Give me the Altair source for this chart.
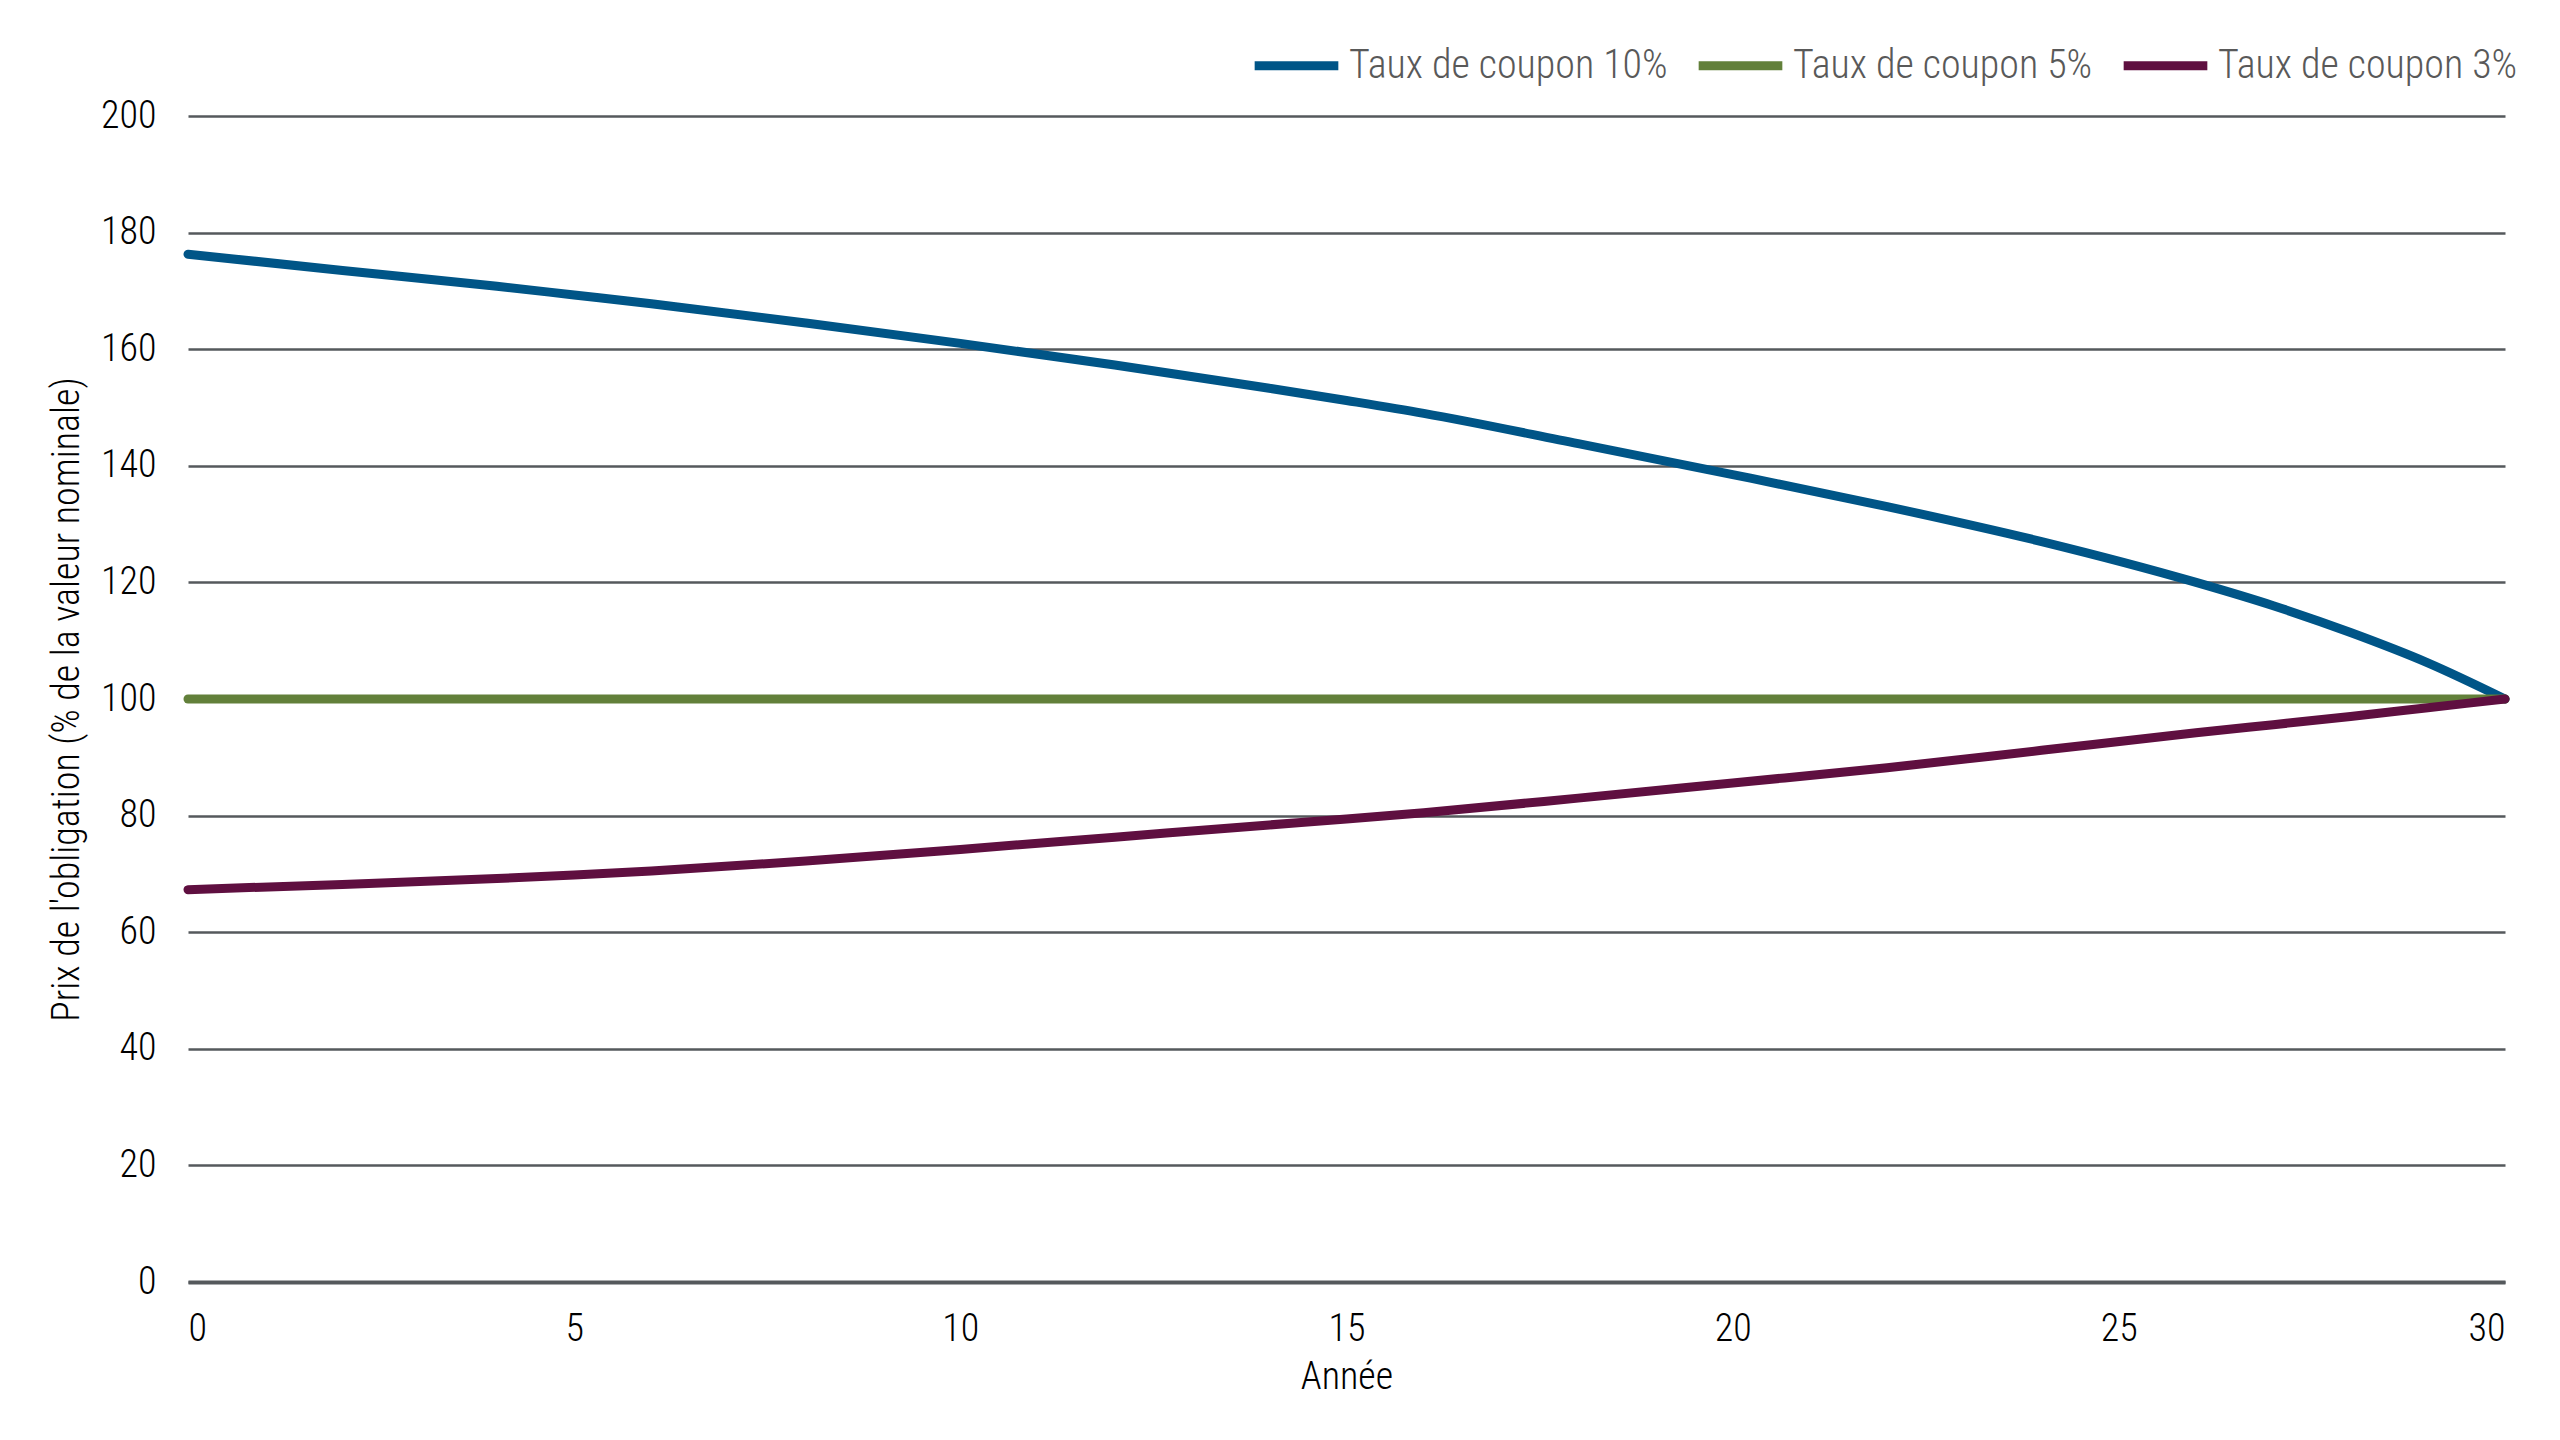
import altair as alt
import pandas as pd

years = [0, 2, 4, 5, 6, 8, 10, 12, 14, 15, 16, 18, 20, 22, 24, 26, 27, 28, 29, 30]
coupon_10 = [176.3, 173.5, 170.8, 169.3, 167.8, 164.5, 161.0, 157.3, 153.3, 151.2, 149.0, 143.8, 138.5, 133.0, 127.0, 120.0, 116.0, 111.4, 106.2, 100.0]
coupon_5 = [100.0] * len(years)
coupon_3 = [67.3, 68.2, 69.2, 69.8, 70.5, 72.2, 74.2, 76.3, 78.4, 79.4, 80.5, 83.0, 85.6, 88.2, 91.2, 94.2, 95.6, 97.0, 98.5, 100.0]

series_names = ["Taux de coupon 10%", "Taux de coupon 5%", "Taux de coupon 3%"]
series_colors = ["#005587", "#62803A", "#5F0F40"]
y_ticks = [0, 20, 40, 60, 80, 100, 120, 140, 160, 180, 200]
x_ticks = [0, 5, 10, 15, 20, 25, 30]

rows = []
for name, vals in zip(series_names, [coupon_10, coupon_5, coupon_3]):
    for yr, v in zip(years, vals):
        rows.append({"Année": yr, "Prix": v, "Série": name, "ordre": series_names.index(name)})
df = pd.DataFrame(rows)

FONT = "Roboto Condensed, Liberation Sans Narrow, DejaVu Sans Condensed, Roboto, sans-serif"

chart = alt.Chart(df).mark_line(
    strokeWidth=9, strokeCap="round", strokeJoin="round", interpolate="monotone"
).encode(
    x=alt.X("Année:Q", title="Année",
            scale=alt.Scale(domain=[0, 30], nice=False, zero=False),
            axis=alt.Axis(values=x_ticks, grid=False, ticks=False, labelFlush=True,
                          domain=True, domainColor="#55595C", domainWidth=4,
                          labelPadding=28, titlePadding=10, format="d")),
    y=alt.Y("Prix:Q", title="Prix de l'obligation (% de la valeur nominale)",
            scale=alt.Scale(domain=[0, 200], nice=False),
            axis=alt.Axis(values=y_ticks, grid=True, ticks=False, domain=False,
                          gridColor="#55595C", gridWidth=2.5,
                          labelPadding=32, titlePadding=14, format="d")),
    color=alt.Color("Série:N",
                    scale=alt.Scale(domain=series_names, range=series_colors),
                    sort=series_names,
                    legend=alt.Legend(title=None, orient="none", direction="horizontal",
                                      legendX=1062, legendY=-97,
                                      symbolType="stroke", symbolSize=7000,
                                      symbolStrokeWidth=9, labelOffset=6,
                                      columnPadding=12, labelFontSize=40, labelLimit=0,
                                      labelFontWeight=300,
                                      labelColor="#595959", labelFont=FONT)),
    order=alt.Order("ordre:Q"),
).properties(
    width=2317, height=1166, background="#FFFFFF",
    padding={"left": 40, "top": 11, "right": 5, "bottom": 5},
).configure_axis(
    labelFont=FONT, titleFont=FONT, labelFontSize=38, titleFontSize=38,
    labelFontWeight=300,
    labelColor="#000000", titleColor="#000000", titleFontWeight=300,
).configure_view(stroke=None)

chart.save("out.html", embed_options={"renderer": "svg", "actions": False})
